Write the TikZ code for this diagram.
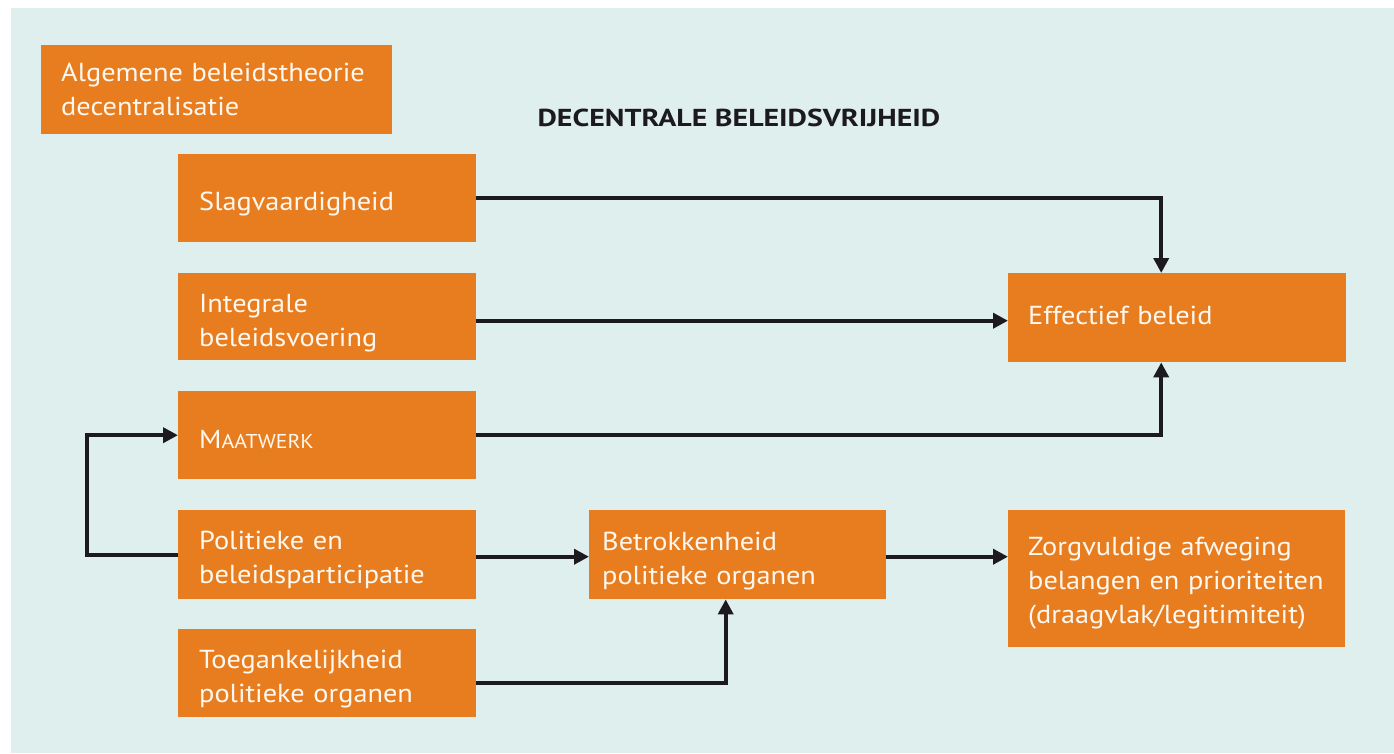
\documentclass[tikz,border=0pt]{standalone}
\usepackage{fontspec}
\setmainfont{PT Sans}[FakeStretch=1.09]
\newfontfamily\titlefont{PT Sans}[FakeStretch=1.22]
\usetikzlibrary{arrows.meta,calc}
\definecolor{bgteal}{HTML}{DFEFEE}
\definecolor{boxorange}{HTML}{E77D1F}
\definecolor{linedark}{HTML}{1C1A1F}
\definecolor{boxtext}{HTML}{FFF8F0}
\begin{document}
\begin{tikzpicture}[x=1pt,y=-1pt,
  box/.style={fill=boxorange, draw=none, anchor=north west, text=boxtext,
    align=left, inner ysep=0pt, font=\fontsize{26}{34}\selectfont,
    text height={40pt+(#1)}, text depth={40pt-(#1)}},
  box/.default=0pt,
  conn/.style={draw=linedark, line width=4pt, -{Triangle[length=15pt,width=15pt]}}]
\useasboundingbox (0,0) rectangle (1394,753);
\fill[white] (0,0) rectangle (1394,753);
\fill[bgteal] (11,8) rectangle (1394,753);

\node[box=-8.5pt, inner xsep=20pt, text width=311pt, minimum height=89pt] (alg) at (41,45) {Algemene beleidstheorie\\decentralisatie};
\node[font=\titlefont\fontsize{24.5}{28}\selectfont\bfseries, text=linedark] (title) at (739,118) {DECENTRALE BELEIDSVRIJHEID};

\node[box=12.5pt, inner xsep=21pt, text width=256pt, minimum height=88pt] (slag) at (178,154) {Slagvaardigheid};
\node[box=-4.5pt, inner xsep=21pt, text width=256pt, minimum height=87pt] (integ) at (178,273) {Integrale\\beleidsvoering};
\node[box=13pt, inner xsep=21pt, text width=256pt, minimum height=88pt] (maat) at (178,391) {M{\fontsize{20}{20}\selectfont AATWERK}};
\node[box=-5pt, inner xsep=21pt, text width=256pt, minimum height=89pt] (pol) at (178,510) {Politieke en\\beleidsparticipatie};
\node[box=-5pt, inner xsep=21pt, text width=256pt, minimum height=88pt] (toeg) at (178,629) {Toegankelijkheid\\politieke organen};
\node[box=-4.5pt, inner xsep=13pt, text width=271pt, minimum height=89pt] (betr) at (589,510) {Betrokkenheid\\politieke organen};
\node[box=7pt, inner xsep=20pt, text width=298pt, minimum height=89pt] (eff) at (1008,273) {Effectief beleid};
\node[box=-23.5pt, inner xsep=20pt, text width=297pt, minimum height=137pt] (zorg) at (1008,510) {Zorgvuldige afweging\\belangen en prioriteiten\\(draagvlak/legitimiteit)};

\draw[conn] (slag.east) -| ([xshift=-16pt]eff.north);
\draw[conn] ([yshift=-4pt]integ.east) -- ([yshift=-4pt]integ.east -| eff.west);
\draw[conn] (maat.east) -| ([xshift=-16pt]eff.south);
\draw[conn] (pol.west) -- ++(-91,0) |- (maat.west);
\draw[conn] ([yshift=-2pt]pol.east) -- ([yshift=-2pt]pol.east -| betr.west);
\draw[conn] ([yshift=-10pt]toeg.east) -| ([xshift=-12pt]betr.south);
\draw[conn] ([yshift=-2pt]betr.east) -- ([yshift=-2pt]betr.east -| zorg.west);
\end{tikzpicture}
\end{document}
